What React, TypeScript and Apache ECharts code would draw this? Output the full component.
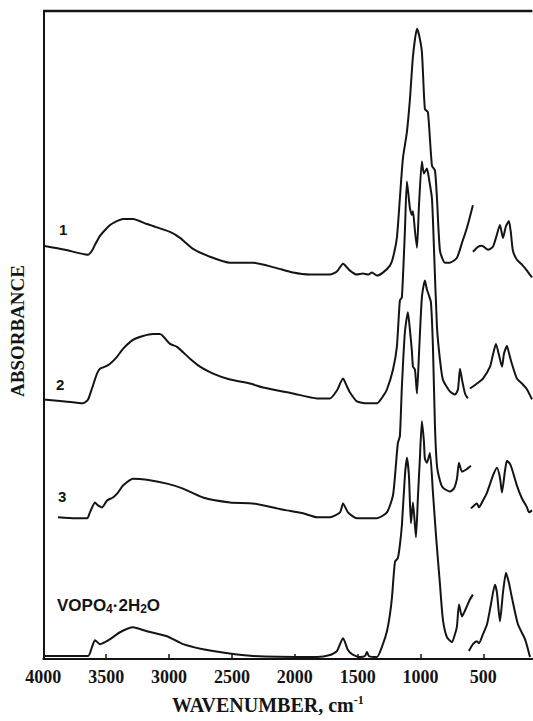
import React, { useEffect, useRef } from "react";
import * as echarts from "echarts";

// Tick labels of the wavenumber axis (cm-1)
const TICKS = [4000, 3500, 3000, 2500, 2000, 1500, 1000, 500];

// Each spectrum: [wavenumber (cm-1), absorbance (arbitrary, offset)]
// mid-IR part and far-IR part are recorded separately (break near 600 cm-1)
const s1Mid = [
  [4000, 4.17], [3827, 4.13], [3644, 4.08], [3613, 4.12], [3589, 4.18], [3549, 4.27],
  [3509, 4.33], [3469, 4.38], [3430, 4.41], [3366, 4.44], [3287, 4.44], [3176, 4.39],
  [3127, 4.37], [2992, 4.31], [2913, 4.25], [2809, 4.14], [2674, 4.06], [2515, 4.0],
  [2332, 4.0], [2157, 3.95], [2014, 3.9], [1879, 3.88], [1720, 3.88], [1665, 3.91],
  [1616, 3.99], [1561, 3.92], [1506, 3.88], [1458, 3.89], [1418, 3.88], [1386, 3.9],
  [1347, 3.87], [1299, 3.9], [1243, 3.97], [1219, 4.05], [1188, 4.25], [1164, 4.65],
  [1140, 5.05], [1108, 5.32], [1084, 5.65], [1060, 6.08], [1028, 6.36], [1012, 6.3],
  [989, 6.13], [965, 5.55], [941, 5.52], [909, 4.98], [885, 4.93], [869, 4.65],
  [845, 4.12], [806, 4.0], [766, 4.0], [710, 4.05], [670, 4.2], [631, 4.35], [583, 4.58],
];
const s1Far = [
  [583, 4.11], [543, 4.16], [511, 4.17], [463, 4.13], [424, 4.16], [400, 4.25],
  [368, 4.38], [344, 4.25], [320, 4.37], [297, 4.42], [281, 4.3], [265, 4.12],
  [233, 4.03], [193, 3.98], [153, 3.92], [113, 3.85],
];

const s2Mid = [
  [4000, 2.62], [3827, 2.6], [3684, 2.58], [3644, 2.62], [3613, 2.73], [3573, 2.88],
  [3549, 2.93], [3509, 2.95], [3469, 2.98], [3414, 3.05], [3366, 3.13], [3287, 3.22],
  [3207, 3.26], [3127, 3.28], [3072, 3.28], [2992, 3.18], [2936, 3.15], [2833, 3.03],
  [2754, 2.95], [2650, 2.88], [2515, 2.82], [2356, 2.78], [2252, 2.74], [2014, 2.68],
  [1823, 2.63], [1720, 2.63], [1665, 2.71], [1616, 2.83], [1585, 2.75], [1561, 2.69],
  [1506, 2.6], [1426, 2.58], [1347, 2.58], [1299, 2.65], [1267, 2.72], [1219, 2.92],
  [1188, 3.15], [1164, 3.62], [1148, 3.65], [1124, 4.32], [1108, 4.82], [1084, 4.55],
  [1068, 4.48], [1060, 4.52], [1044, 4.32], [1028, 4.15], [1012, 4.58], [989, 5.02],
  [973, 4.9], [949, 4.95], [933, 4.85], [909, 4.65], [893, 4.15], [869, 3.35],
  [845, 3.02], [822, 2.82], [766, 2.7], [726, 2.67], [702, 2.72], [686, 2.93],
  [670, 2.82], [646, 2.68], [623, 2.63],
];
const s2Far = [
  [607, 2.73], [583, 2.75], [551, 2.78], [503, 2.83], [447, 2.95], [424, 3.07],
  [400, 3.18], [376, 3.07], [352, 2.95], [336, 3.08], [312, 3.16], [297, 3.09],
  [273, 2.98], [233, 2.83], [193, 2.78], [153, 2.72], [113, 2.62],
];

const s3Mid = [
  [3883, 1.43], [3747, 1.42], [3652, 1.42], [3629, 1.48], [3589, 1.58], [3565, 1.55],
  [3533, 1.53], [3493, 1.6], [3446, 1.63], [3406, 1.68], [3366, 1.75], [3287, 1.82],
  [3176, 1.81], [3016, 1.77], [2889, 1.72], [2730, 1.63], [2515, 1.58], [2332, 1.57],
  [2141, 1.52], [2062, 1.5], [1934, 1.47], [1823, 1.43], [1720, 1.43], [1640, 1.48],
  [1616, 1.57], [1577, 1.48], [1506, 1.42], [1347, 1.42], [1267, 1.48], [1219, 1.65],
  [1196, 1.95], [1180, 2.18], [1164, 2.25], [1148, 2.75], [1124, 3.3], [1100, 3.5],
  [1084, 3.32], [1068, 3.1], [1060, 2.95], [1044, 2.92], [1028, 2.68], [1012, 3.08],
  [989, 3.65], [965, 3.82], [949, 3.73], [933, 3.67], [917, 3.6], [901, 3.15],
  [885, 2.35], [869, 1.95], [845, 1.8], [822, 1.73], [766, 1.69], [734, 1.72],
  [710, 1.82], [694, 1.98], [670, 1.89], [639, 1.91], [599, 1.95],
];
const s3Far = [
  [599, 1.52], [551, 1.57], [535, 1.53], [503, 1.6], [471, 1.68], [424, 1.85],
  [392, 1.93], [368, 1.83], [352, 1.68], [328, 1.9], [312, 2.0], [289, 1.97],
  [273, 1.92], [233, 1.75], [193, 1.62], [153, 1.53], [137, 1.48], [113, 1.5],
];

const s4Mid = [
  [4000, 0.03], [3644, 0.03], [3613, 0.12], [3589, 0.19], [3549, 0.15], [3509, 0.17],
  [3469, 0.2], [3390, 0.27], [3287, 0.32], [3176, 0.28], [3016, 0.23], [2889, 0.15],
  [2650, 0.08], [2332, 0.03], [1823, 0.02], [1720, 0.04], [1665, 0.08], [1616, 0.21],
  [1577, 0.09], [1545, 0.05], [1482, 0.02], [1442, 0.03], [1426, 0.07], [1410, 0.03],
  [1347, 0.02], [1299, 0.15], [1267, 0.28], [1243, 0.45], [1227, 0.62], [1203, 0.98],
  [1180, 1.02], [1164, 1.15], [1148, 1.35], [1124, 1.85], [1108, 2.03], [1092, 1.85],
  [1076, 1.37], [1060, 1.58], [1036, 1.23], [1020, 1.65], [1005, 2.02], [989, 2.4],
  [973, 2.2], [965, 2.02], [949, 1.98], [925, 2.08], [901, 1.68], [877, 1.25],
  [845, 0.75], [822, 0.4], [790, 0.22], [750, 0.17], [726, 0.25], [710, 0.33],
  [694, 0.55], [670, 0.43], [639, 0.51], [607, 0.6], [583, 0.65],
];
const s4Far = [
  [615, 0.08], [583, 0.15], [551, 0.18], [535, 0.16], [503, 0.25], [471, 0.35],
  [440, 0.55], [408, 0.75], [392, 0.67], [368, 0.38], [344, 0.67], [320, 0.87],
  [297, 0.77], [273, 0.62], [225, 0.35], [169, 0.2], [129, 0.02],
];

const SEGMENTS = [
  { name: "1", data: s1Mid }, { name: "1", data: s1Far },
  { name: "2", data: s2Mid }, { name: "2", data: s2Far },
  { name: "3", data: s3Mid }, { name: "3", data: s3Far },
  { name: "VOPO4·2H2O", data: s4Mid }, { name: "VOPO4·2H2O", data: s4Far },
];

const INK = "#141414";
const SERIF = "'Liberation Serif', 'DejaVu Serif', serif";
const SANS = "'Liberation Sans', Arial, sans-serif";

export default function App() {
  const ref = useRef<HTMLDivElement>(null);
  useEffect(() => {
    if (!ref.current) return;
    const chart = echarts.init(ref.current, undefined, { renderer: "svg" });
    const labelStyle = (text: string) => ({
      text,
      fill: INK,
      fontFamily: SANS,
      fontWeight: "bold",
      fontSize: 15,
      verticalAlign: "middle",
      align: "left",
    });
    chart.setOption({
      animation: false,
      backgroundColor: "#ffffff",
      grid: { left: 43.3, right: 0.6, top: 11, bottom: 56 },
      xAxis: {
        type: "value",
        inverse: true,
        min: 110,
        max: 4000,
        axisLine: { show: true, onZero: false, lineStyle: { color: INK, width: 2 } },
        axisTick: {
          show: true,
          inside: true,
          length: 5,
          customValues: TICKS,
          lineStyle: { color: INK, width: 1.5 },
        },
        axisLabel: {
          customValues: TICKS,
          formatter: (v: number) => String(v),
          margin: 9,
          color: INK,
          fontFamily: SERIF,
          fontWeight: "bold",
          fontSize: 18,
        },
        splitLine: { show: false },
        name: "WAVENUMBER, cm{sup|-1}",
        nameLocation: "middle",
        nameGap: 35,
        nameTextStyle: {
          color: INK,
          fontFamily: SERIF,
          fontWeight: "bold",
          fontSize: 20,
          lineHeight: 22,
          padding: [0, 40, 0, 0],
          rich: {
            sup: {
              color: INK,
              fontFamily: SERIF,
              fontWeight: "bold",
              fontSize: 12,
              lineHeight: 12,
              verticalAlign: "top",
            },
          },
        },
      },
      yAxis: {
        type: "value",
        min: 0,
        max: 6.54,
        axisLine: { show: true, onZero: false, lineStyle: { color: INK, width: 2 } },
        axisTick: { show: false },
        axisLabel: { show: false },
        splitLine: { show: false },
        name: "ABSORBANCE",
        nameLocation: "middle",
        nameGap: 16,
        nameTextStyle: {
          color: INK,
          fontFamily: SERIF,
          fontWeight: "bold",
          fontSize: 19,
          padding: [0, 0, 0, 8],
        },
      },
      series: [
        ...SEGMENTS.map((s) => ({
          type: "line",
          name: s.name,
          data: s.data,
          showSymbol: false,
          smooth: 0.2,
          lineStyle: { color: INK, width: 2 },
          silent: true,
        })),
        {
          // top frame line of the plot, drawn along the y-axis maximum
          type: "line",
          name: "frame",
          data: [
            [4000, 6.54],
            [110, 6.54],
          ],
          showSymbol: false,
          clip: false,
          lineStyle: { color: INK, width: 2.5 },
          silent: true,
        },
      ],
      graphic: [
        { type: "text", x: 59, y: 229, style: labelStyle("1") },
        { type: "text", x: 56, y: 384, style: labelStyle("2") },
        { type: "text", x: 58, y: 496, style: labelStyle("3") },
        {
          type: "text",
          x: 57,
          y: 605,
          style: {
            text: "VOPO{s|4}·2H{s|2}O",
            fill: INK,
            fontFamily: SANS,
            fontWeight: "bold",
            fontSize: 17,
            lineHeight: 20,
            verticalAlign: "middle",
            align: "left",
            rich: {
              s: {
                fill: INK,
                fontFamily: SANS,
                fontWeight: "bold",
                fontSize: 12,
                lineHeight: 12,
                verticalAlign: "bottom",
              },
            },
          },
        },
      ],
    });
    return () => chart.dispose();
  }, []);
  return (
    <div
      ref={ref}
      style={{ position: "absolute", left: 0, top: 0, width: 533, height: 721 }}
    />
  );
}
